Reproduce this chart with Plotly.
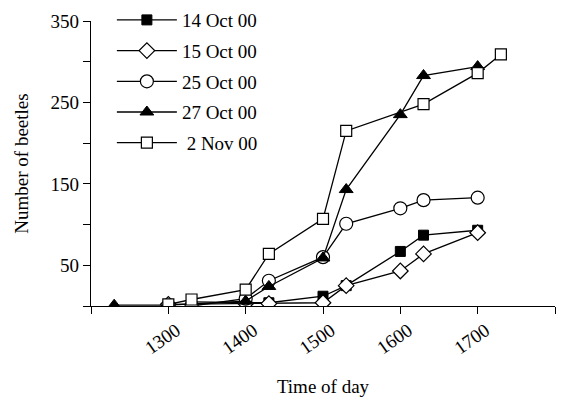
import plotly.graph_objects as go

# Data (time of day as hhmm)
t_14oct = [1330, 1400, 1430, 1500, 1530, 1600, 1630, 1700]
n_14oct = [5, 4, 4, 12, 25, 67, 87, 93]

t_15oct = [1300, 1400, 1430, 1500, 1530, 1600, 1630, 1700]
n_15oct = [2, 3, 3, 4, 25, 43, 64, 90]

t_25oct = [1330, 1400, 1430, 1500, 1530, 1600, 1630, 1700]
n_25oct = [0, 9, 31, 60, 101, 120, 130, 133]

t_27oct = [1230, 1300, 1400, 1430, 1500, 1530, 1600, 1630, 1700]
n_27oct = [1, 1, 6, 24, 59, 143, 235, 283, 294]

t_2nov = [1300, 1330, 1400, 1430, 1500, 1530, 1630, 1700, 1730]
n_2nov = [2, 8, 20, 64, 107, 215, 248, 286, 309]

x_ticks = [1200, 1300, 1400, 1500, 1600, 1700, 1800]
x_ticktext = ["", "1300", "1400", "1500", "1600", "1700", ""]
y_ticks = [0, 50, 100, 150, 200, 250, 300, 350]
y_ticktext = ["", "50", "", "150", "", "250", "", "350"]

FONT = "Liberation Serif"
LINE = dict(color="black", width=1.3)

series = [
    ("14 Oct 00", t_14oct, n_14oct, dict(symbol="square", size=10, color="black",
                                         line=dict(color="black", width=1))),
    ("15 Oct 00", t_15oct, n_15oct, dict(symbol="diamond", size=12, color="white",
                                         line=dict(color="black", width=1.2))),
    ("25 Oct 00", t_25oct, n_25oct, dict(symbol="circle", size=13, color="white",
                                         line=dict(color="black", width=1.2))),
    ("27 Oct 00", t_27oct, n_27oct, dict(symbol="triangle-up", size=12, color="black",
                                         line=dict(color="black", width=1))),
    (" 2 Nov 00", t_2nov, n_2nov, dict(symbol="square", size=11, color="white",
                                       line=dict(color="black", width=1.2))),
]

fig = go.Figure()
for i, (name, xs, ys, mk) in enumerate(series):
    fig.add_trace(go.Scatter(x=xs, y=ys, name=name, mode="lines+markers",
                             line=LINE, marker=mk, legendgroup=f"g{i}"))

fig.update_layout(
    width=558, height=390,
    margin=dict(l=83, r=11, t=13, b=92, autoexpand=False),
    paper_bgcolor="white", plot_bgcolor="white",
    font=dict(family=FONT, size=19, color="black"),
    showlegend=True,
    legend=dict(x=0.045, y=1.07, xanchor="left", yanchor="top",
                bgcolor="rgba(0,0,0,0)", tracegroupgap=3, itemwidth=60,
                font=dict(family=FONT, size=19)),
    xaxis=dict(range=[1200, 1800], tickvals=x_ticks, ticktext=x_ticktext,
               showgrid=False, zeroline=False, showline=True, linecolor="black",
               linewidth=1.3, ticks="outside", ticklen=7, tickcolor="black",
               tickwidth=1.3, tickangle=-35, automargin=False,
               ticklabelstandoff=-2, ticklabelshift=8,
               title=dict(text="Time of day", font=dict(size=19), standoff=22)),
    yaxis=dict(range=[0, 350], tickvals=y_ticks, ticktext=y_ticktext,
               showgrid=False, zeroline=False, showline=True, linecolor="black",
               linewidth=1.3, ticks="outside", ticklen=7, tickcolor="black",
               tickwidth=1.3, automargin=False,
               title=dict(text="Number of beetles", font=dict(size=19), standoff=16)),
)

fig.write_html("out.html")
